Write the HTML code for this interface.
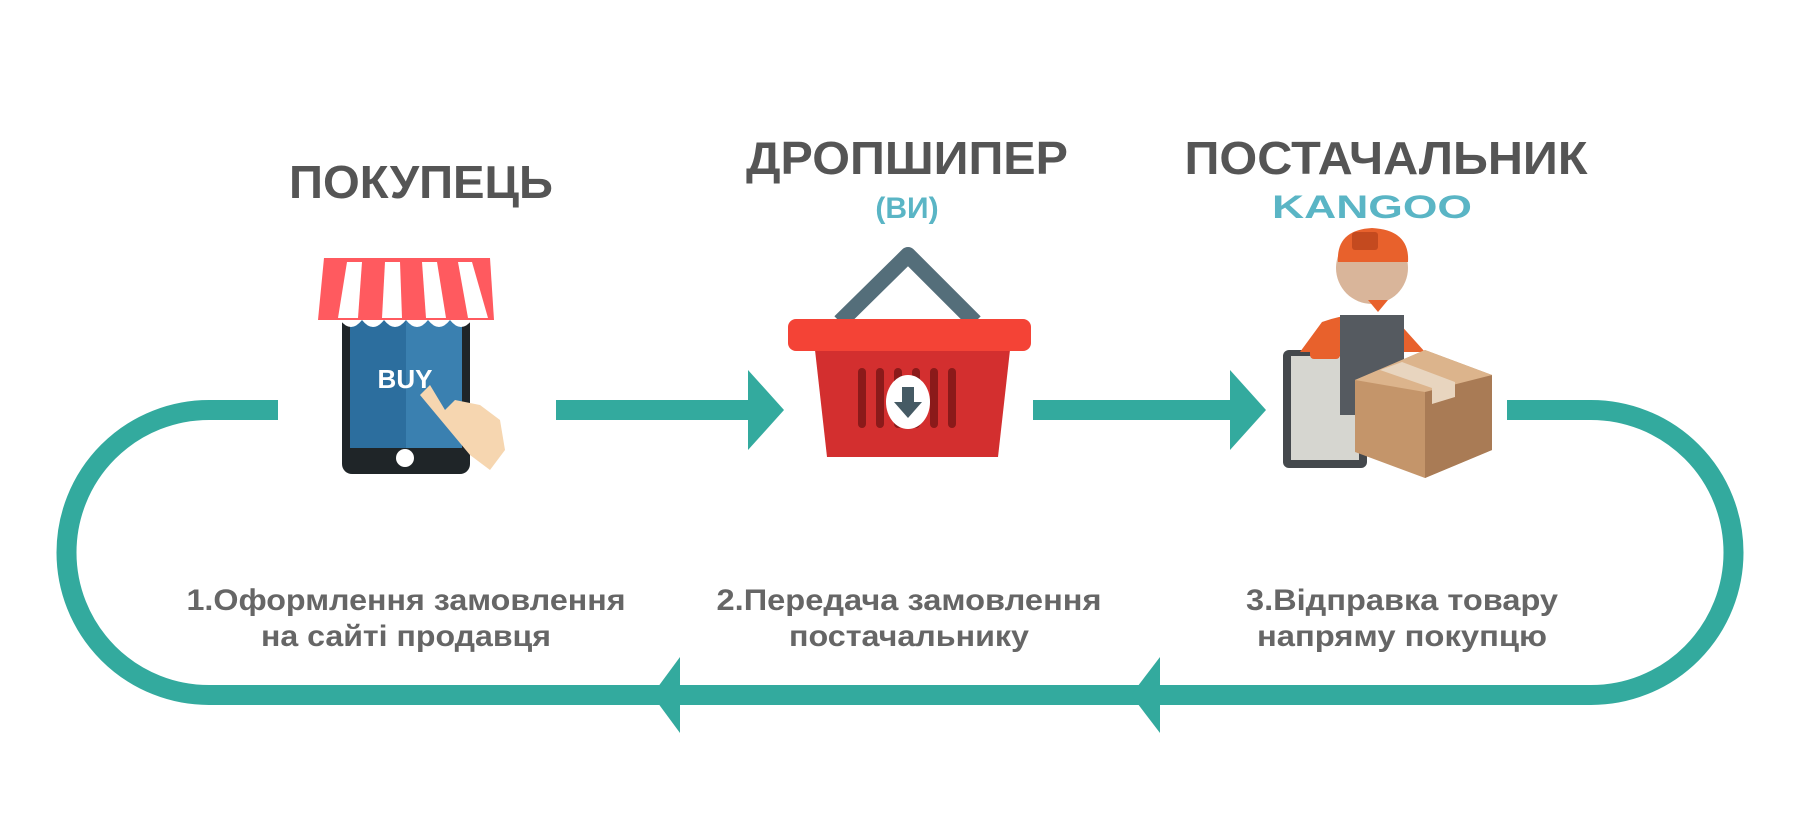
<!DOCTYPE html>
<html><head><meta charset="utf-8"><style>
html,body{margin:0;padding:0;background:#fff;}
svg{display:block}
</style></head><body>
<svg width="1800" height="838" viewBox="0 0 1800 838" xmlns="http://www.w3.org/2000/svg">
<rect width="1800" height="838" fill="#fff"/>
<g fill="none" stroke="#33aa9e" stroke-width="20">
  <path d="M278 410 H209 A142 142 0 0 0 209 695 H1591 A142 142 0 0 0 1591 410 H1507"/>
  <path d="M556 410 H760"/>
  <path d="M1033 410 H1240"/>
</g>
<g fill="#33aa9e">
  <polygon points="748,370 784,410 748,450"/>
  <polygon points="1230,370 1266,410 1230,450"/>
  <polygon points="680,657 652,695 680,733"/>
  <polygon points="1160,657 1131,695 1160,733"/>
</g>
<g font-family="'Liberation Sans','DejaVu Sans',sans-serif" font-weight="bold" text-anchor="middle">
  <text x="421" y="198" font-size="46" fill="#555" textLength="264" lengthAdjust="spacingAndGlyphs">ПОКУПЕЦЬ</text>
  <text x="907" y="174" font-size="46" fill="#555" textLength="322" lengthAdjust="spacingAndGlyphs">ДРОПШИПЕР</text>
  <text x="1386" y="174" font-size="46" fill="#555" textLength="403" lengthAdjust="spacingAndGlyphs">ПОСТАЧАЛЬНИК</text>
  <text x="907" y="218" font-size="30" fill="#5ab5c5">(ВИ)</text>
  <text x="1372" y="218" font-size="32" fill="#5ab5c5" textLength="200" lengthAdjust="spacingAndGlyphs">KANGOO</text>
  <g font-size="30" fill="#666" lengthAdjust="spacingAndGlyphs">
    <text x="406" y="610" textLength="439" lengthAdjust="spacingAndGlyphs">1.Оформлення замовлення</text>
    <text x="406" y="646" textLength="290" lengthAdjust="spacingAndGlyphs">на сайті продавця</text>
    <text x="909" y="610" textLength="385" lengthAdjust="spacingAndGlyphs">2.Передача замовлення</text>
    <text x="909" y="646" textLength="240" lengthAdjust="spacingAndGlyphs">постачальнику</text>
    <text x="1402" y="610" textLength="312" lengthAdjust="spacingAndGlyphs">3.Відправка товару</text>
    <text x="1402" y="646" textLength="290" lengthAdjust="spacingAndGlyphs">напряму покупцю</text>
  </g>
</g>
<!-- phone -->
<rect x="342" y="300" width="128" height="174" rx="10" fill="#1f2528"/>
<rect x="350" y="320" width="112" height="128" fill="#2c6e9e"/>
<rect x="406" y="320" width="56" height="128" fill="#3a80b0"/>
<circle cx="405" cy="458" r="9" fill="#fff"/>
<text x="405" y="388" font-family="'Liberation Sans',sans-serif" font-weight="bold" font-size="26" fill="#fff" text-anchor="middle">BUY</text>
<path d="M420 395 L470 455 L490 470 L505 450 L500 420 L480 405 L455 400 L445 410 L430 385 Z" fill="#f6d6b0"/>
<polygon points="324,258 490,258 494,320 318,320" fill="#ff5a5f"/>
<g fill="#fff"><polygon points="347,262 362,262 358,318 338,318"/><polygon points="385,262 400,262 402,318 382,318"/><polygon points="422,262 437,262 446,318 426,318"/><polygon points="458,262 472,262 488,318 468,318"/></g>
<path d="M318 320 q11 14 22 0 q11 14 22 0 q11 14 22 0 q11 14 22 0 q11 14 22 0 q11 14 22 0 q11 14 22 0 q11 14 22 0 z" fill="#fff"/>
<!-- basket -->
<path d="M840 322 L908 255 L975 322" fill="none" stroke="#546e7a" stroke-width="16" stroke-linejoin="round"/>
<path d="M815 350 H1010 L998 457 H827 Z" fill="#d32f2f"/>
<rect x="788" y="319" width="243" height="32" rx="8" fill="#f44336"/>
<g fill="#8b1a1a"><rect x="858" y="368" width="8" height="60" rx="4"/><rect x="876" y="368" width="8" height="60" rx="4"/><rect x="894" y="368" width="8" height="60" rx="4"/><rect x="912" y="368" width="8" height="60" rx="4"/><rect x="930" y="368" width="8" height="60" rx="4"/><rect x="948" y="368" width="8" height="60" rx="4"/></g>
<ellipse cx="908" cy="402" rx="22" ry="27" fill="#fff"/>
<path d="M902 387 H914 V402 H922 L908 418 L894 402 H902 Z" fill="#455a64"/>
<!-- worker -->
<rect x="1283" y="350" width="84" height="118" rx="6" fill="#44484c"/>
<rect x="1291" y="356" width="68" height="104" fill="#d6d6d0"/>
<rect x="1310" y="345" width="30" height="14" rx="4" fill="#e8612c"/>
<path d="M1322 322 Q1360 308 1398 322 L1425 352 L1300 352 Z" fill="#e8612c"/>
<rect x="1340" y="315" width="64" height="100" fill="#555a60"/>
<circle cx="1372" cy="268" r="36" fill="#d9b59a"/>
<path d="M1338 262 Q1336 230 1372 228 Q1410 230 1408 262 Z" fill="#e8612c"/>
<rect x="1352" y="232" width="26" height="18" rx="3" fill="#c44a1f"/>
<path d="M1368 300 L1378 312 L1388 300 Z" fill="#e8612c"/>
<polygon points="1355,380 1425,350 1492,375 1492,450 1425,478 1355,452" fill="#c4956a"/>
<polygon points="1425,390 1492,375 1492,450 1425,478" fill="#a97b55"/>
<polygon points="1355,380 1425,350 1492,375 1425,392" fill="#dcb48c"/>
<polygon points="1380,370 1402,362 1455,382 1455,397 1432,404 1432,388" fill="#e8d5bf"/>
</svg>
</body></html>
